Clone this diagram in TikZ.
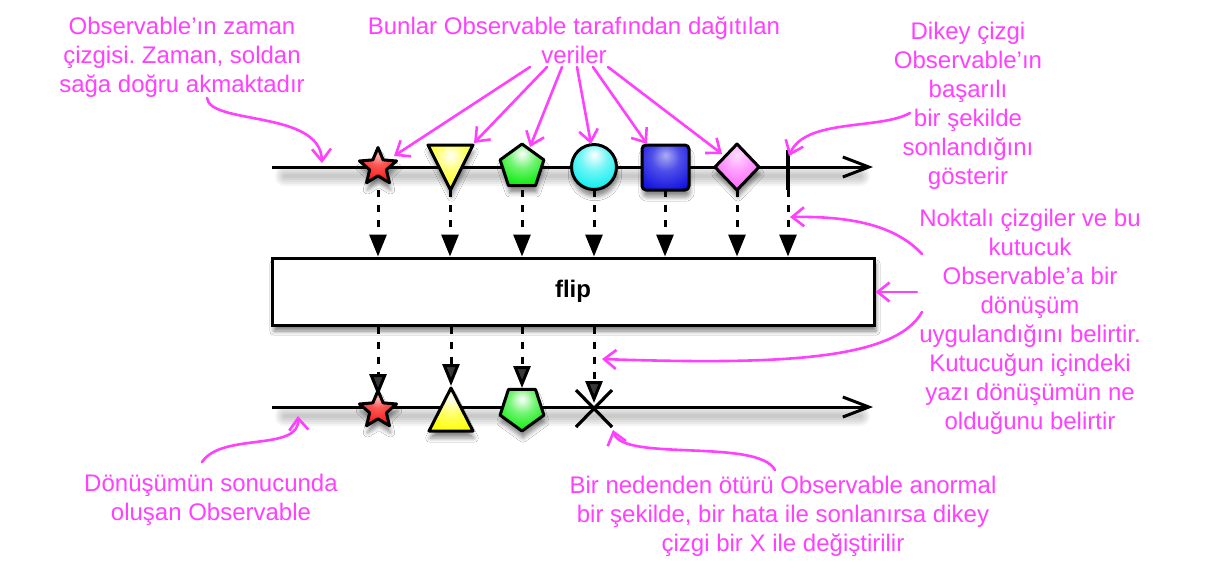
\documentclass[tikz,border=0pt]{standalone}
\usepackage{fontspec}
\setmainfont{Liberation Sans}
\frenchspacing
\usetikzlibrary{arrows.meta,shadows.blur,calc}
\definecolor{mag}{RGB}{255,64,255}
\definecolor{cRed}{RGB}{250,30,25}
\definecolor{cYel}{RGB}{255,255,0}
\definecolor{cGrn}{RGB}{0,235,0}
\definecolor{cCya}{RGB}{0,238,238}
\definecolor{cBlu}{RGB}{20,20,225}
\definecolor{cMag}{RGB}{255,95,255}
\pgfdeclareradialshading{shRed}{\pgfpoint{0bp}{14bp}}{color(0bp)=(cRed!35!white);color(12bp)=(cRed!75!white);color(30bp)=(cRed);color(80bp)=(cRed!70!black)}
\pgfdeclareradialshading{shYel}{\pgfpoint{0bp}{14bp}}{color(0bp)=(white);color(15bp)=(cYel!55!white);color(35bp)=(cYel);color(80bp)=(cYel!70!black)}
\pgfdeclareradialshading{shGrn}{\pgfpoint{0bp}{14bp}}{color(0bp)=(white);color(15bp)=(cGrn!55!white);color(35bp)=(cGrn);color(80bp)=(cGrn!70!black)}
\pgfdeclareradialshading{shCya}{\pgfpoint{0bp}{14bp}}{color(0bp)=(white);color(15bp)=(cCya!55!white);color(35bp)=(cCya);color(80bp)=(cCya!75!black)}
\pgfdeclareradialshading{shBlu}{\pgfpoint{0bp}{14bp}}{color(0bp)=(cBlu!35!white);color(15bp)=(cBlu!75!white);color(35bp)=(cBlu);color(80bp)=(cBlu!60!black)}
\pgfdeclareradialshading{shMag}{\pgfpoint{0bp}{14bp}}{color(0bp)=(cMag!20!white);color(15bp)=(cMag!60!white);color(35bp)=(cMag);color(80bp)=(cMag!70!black)}
\begin{document}
\begin{tikzpicture}[x=0.5pt,y=-0.5pt,
  note/.style={text=mag, align=center, font=\fontsize{12}{14.5}\selectfont, inner sep=0pt},
  marrow/.style={draw=mag, line width=1.3pt, line cap=round, -{Straight Barb[length=6pt,width=9.5pt]}},
  tline/.style={line width=1.5pt, -{Straight Barb[length=13pt,width=10pt]}},
  dotarrow/.style={line width=1.5pt, dash pattern=on 3.5pt off 4pt, -{Triangle[length=11pt,width=8.5pt]}},
  mshape/.style={draw=black, line width=1.5pt, line join=round,
    blur shadow={shadow xshift=0.5pt, shadow yshift=-3.5pt, shadow opacity=45}},
  tshadow/.style={black, opacity=0.045},
  flipbox/.style={draw, line width=1.5pt, fill=white, minimum width=301pt, minimum height=33.5pt,
    font=\bfseries\fontsize{12}{14}\selectfont,
    blur shadow={shadow xshift=1pt, shadow yshift=-3pt, shadow opacity=50}},
]
\useasboundingbox (0,0) rectangle (1210,570);
\fill[white] (0,0) rectangle (1210,570);

% timeline shadows
\foreach \yy in {176,416}{
  \foreach \w in {2,4,6,8,10}{\draw[tshadow, line width=\w pt, line cap=round] (285,\yy) -- (860,\yy);}
}
% timelines
\coordinate (tl1s) at (272,167);
\coordinate (tl1e) at (873,167);
\coordinate (tl2s) at (272,407);
\coordinate (tl2e) at (873,407);
\draw[tline] (tl1s) -- (tl1e);
\draw[tline] (tl2s) -- (tl2e);

% transformation box
\node[flipbox] (box) at (573,291.5) {flip};

% dotted arrows, top
\foreach \n/\x in {a/378,b/450,c/522,d/594,e/665,f/737,g/788}{
  \coordinate (top\n) at (\x,190);
  \draw[dotarrow] (top\n) -- (top\n |- box.north);
}

% top items
\begin{scope}[shift={(378,167)}]
\path[mshape, shading=shRed] (270:19.5) -- (306:8.8) -- (342:19.5) -- (18:8.8) -- (54:19.5) -- (90:8.8) -- (126:19.5) -- (162:8.8) -- (198:19.5) -- (234:8.8) -- cycle;
\end{scope}
\path[mshape, shading=shYel] (428,145) -- (473,145) -- (450.5,190) -- cycle;
\begin{scope}[shift={(522,167)}]
\path[mshape, shading=shGrn] (270:23) -- (342:23) -- (54:23) -- (126:23) -- (198:23) -- cycle;
\end{scope}
\path[mshape, shading=shCya] (594,167) circle[radius=22.5];
\path[mshape, rounded corners=2pt, shading=shBlu] (642,145) rectangle (689,190);
\path[mshape, shading=shMag] (715,167) -- (737,144) -- (759,167) -- (737,190) -- cycle;
\draw[line width=1.7pt] (788,150) -- (788,190);

% bottom items
\begin{scope}[shift={(378,410)}]
\path[mshape, shading=shRed] (270:19.5) -- (306:8.8) -- (342:19.5) -- (18:8.8) -- (54:19.5) -- (90:8.8) -- (126:19.5) -- (162:8.8) -- (198:19.5) -- (234:8.8) -- cycle;
\end{scope}
\path[mshape, shading=shYel] (429,431) -- (473,431) -- (451,388) -- cycle;
\begin{scope}[shift={(522,408)}]
\path[mshape, shading=shGrn] (90:23) -- (162:23) -- (234:23) -- (306:23) -- (18:23) -- cycle;
\end{scope}
\draw[line width=1.6pt] (576,390) -- (612,427) (612,390) -- (576,427);

% dotted arrows, bottom
\foreach \n/\x/\y in {a/378/396,b/451/386,c/522/388,d/594/403}{
  \coordinate (bot\n) at (\x,\y);
  \draw[dotarrow] (bot\n |- box.south) -- (bot\n);
}

% annotations
\node[note] (t1) at (182,57) {Observable’ın zaman\\çizgisi. Zaman, soldan\\sağa doğru akmaktadır};
\node[note] (t2) at (574,40) {Bunlar Observable tarafından dağıtılan\\veriler};
\node[note] (t3) at (968,106) {Dikey çizgi\\Observable’ın\\başarılı\\bir şekilde\\sonlandığını\\gösterir};
\node[note] (t4) at (1030,322) {Noktalı çizgiler ve bu\\kutucuk\\Observable’a bir\\dönüşüm\\uygulandığını belirtir.\\Kutucuğun içindeki\\yazı dönüşümün ne\\olduğunu belirtir};
\node[note] (t5) at (211,500) {Dönüşümün sonucunda\\oluşan Observable};
\node[note] (t6) at (783,516) {Bir nedenden ötürü Observable anormal\\bir şekilde, bir hata ile sonlanırsa dikey\\çizgi bir X ile değiştirilir};

% magenta arrows
\coordinate (p1s) at (207,98);   \coordinate (p1e) at (322,163);
\draw[marrow] (p1s) .. controls (210,125) and (320,110) .. (p1e);

\coordinate (v1) at (530,67); \coordinate (w1) at (394,156);
\coordinate (v2) at (547,67); \coordinate (w2) at (474,143);
\coordinate (v3) at (562,67); \coordinate (w3) at (530,147);
\coordinate (v4) at (577,67); \coordinate (w4) at (591,144);
\coordinate (v5) at (593,67); \coordinate (w5) at (647,144);
\coordinate (v6) at (608,67); \coordinate (w6) at (722,154);
\foreach \i in {1,...,6}{\draw[marrow] (v\i) -- (w\i);}

\coordinate (p3s) at (910,113); \coordinate (p3e) at (789,156);
\draw[marrow] (p3s) .. controls (880,130) and (805,118) .. (p3e);

\coordinate (p4s) at (922,254); \coordinate (p4e) at (790,217);
\draw[marrow] (p4s) .. controls (895,225) and (850,216) .. (p4e);

\coordinate (p5s) at (917,292);
\draw[marrow] (p5s) -- (box.east |- p5s);

\coordinate (p6s) at (922,312); \coordinate (p6e) at (602,359);
\draw[marrow] (p6s) .. controls (895,360) and (780,365) .. (p6e);

\coordinate (p7s) at (202,462); \coordinate (p7e) at (298,416);
\draw[marrow] (p7s) .. controls (222,432) and (300,452) .. (p7e);

\coordinate (p8s) at (775,470); \coordinate (p8e) at (613,430);
\draw[marrow] (p8s) .. controls (758,438) and (622,462) .. (p8e);
\end{tikzpicture}
\end{document}
